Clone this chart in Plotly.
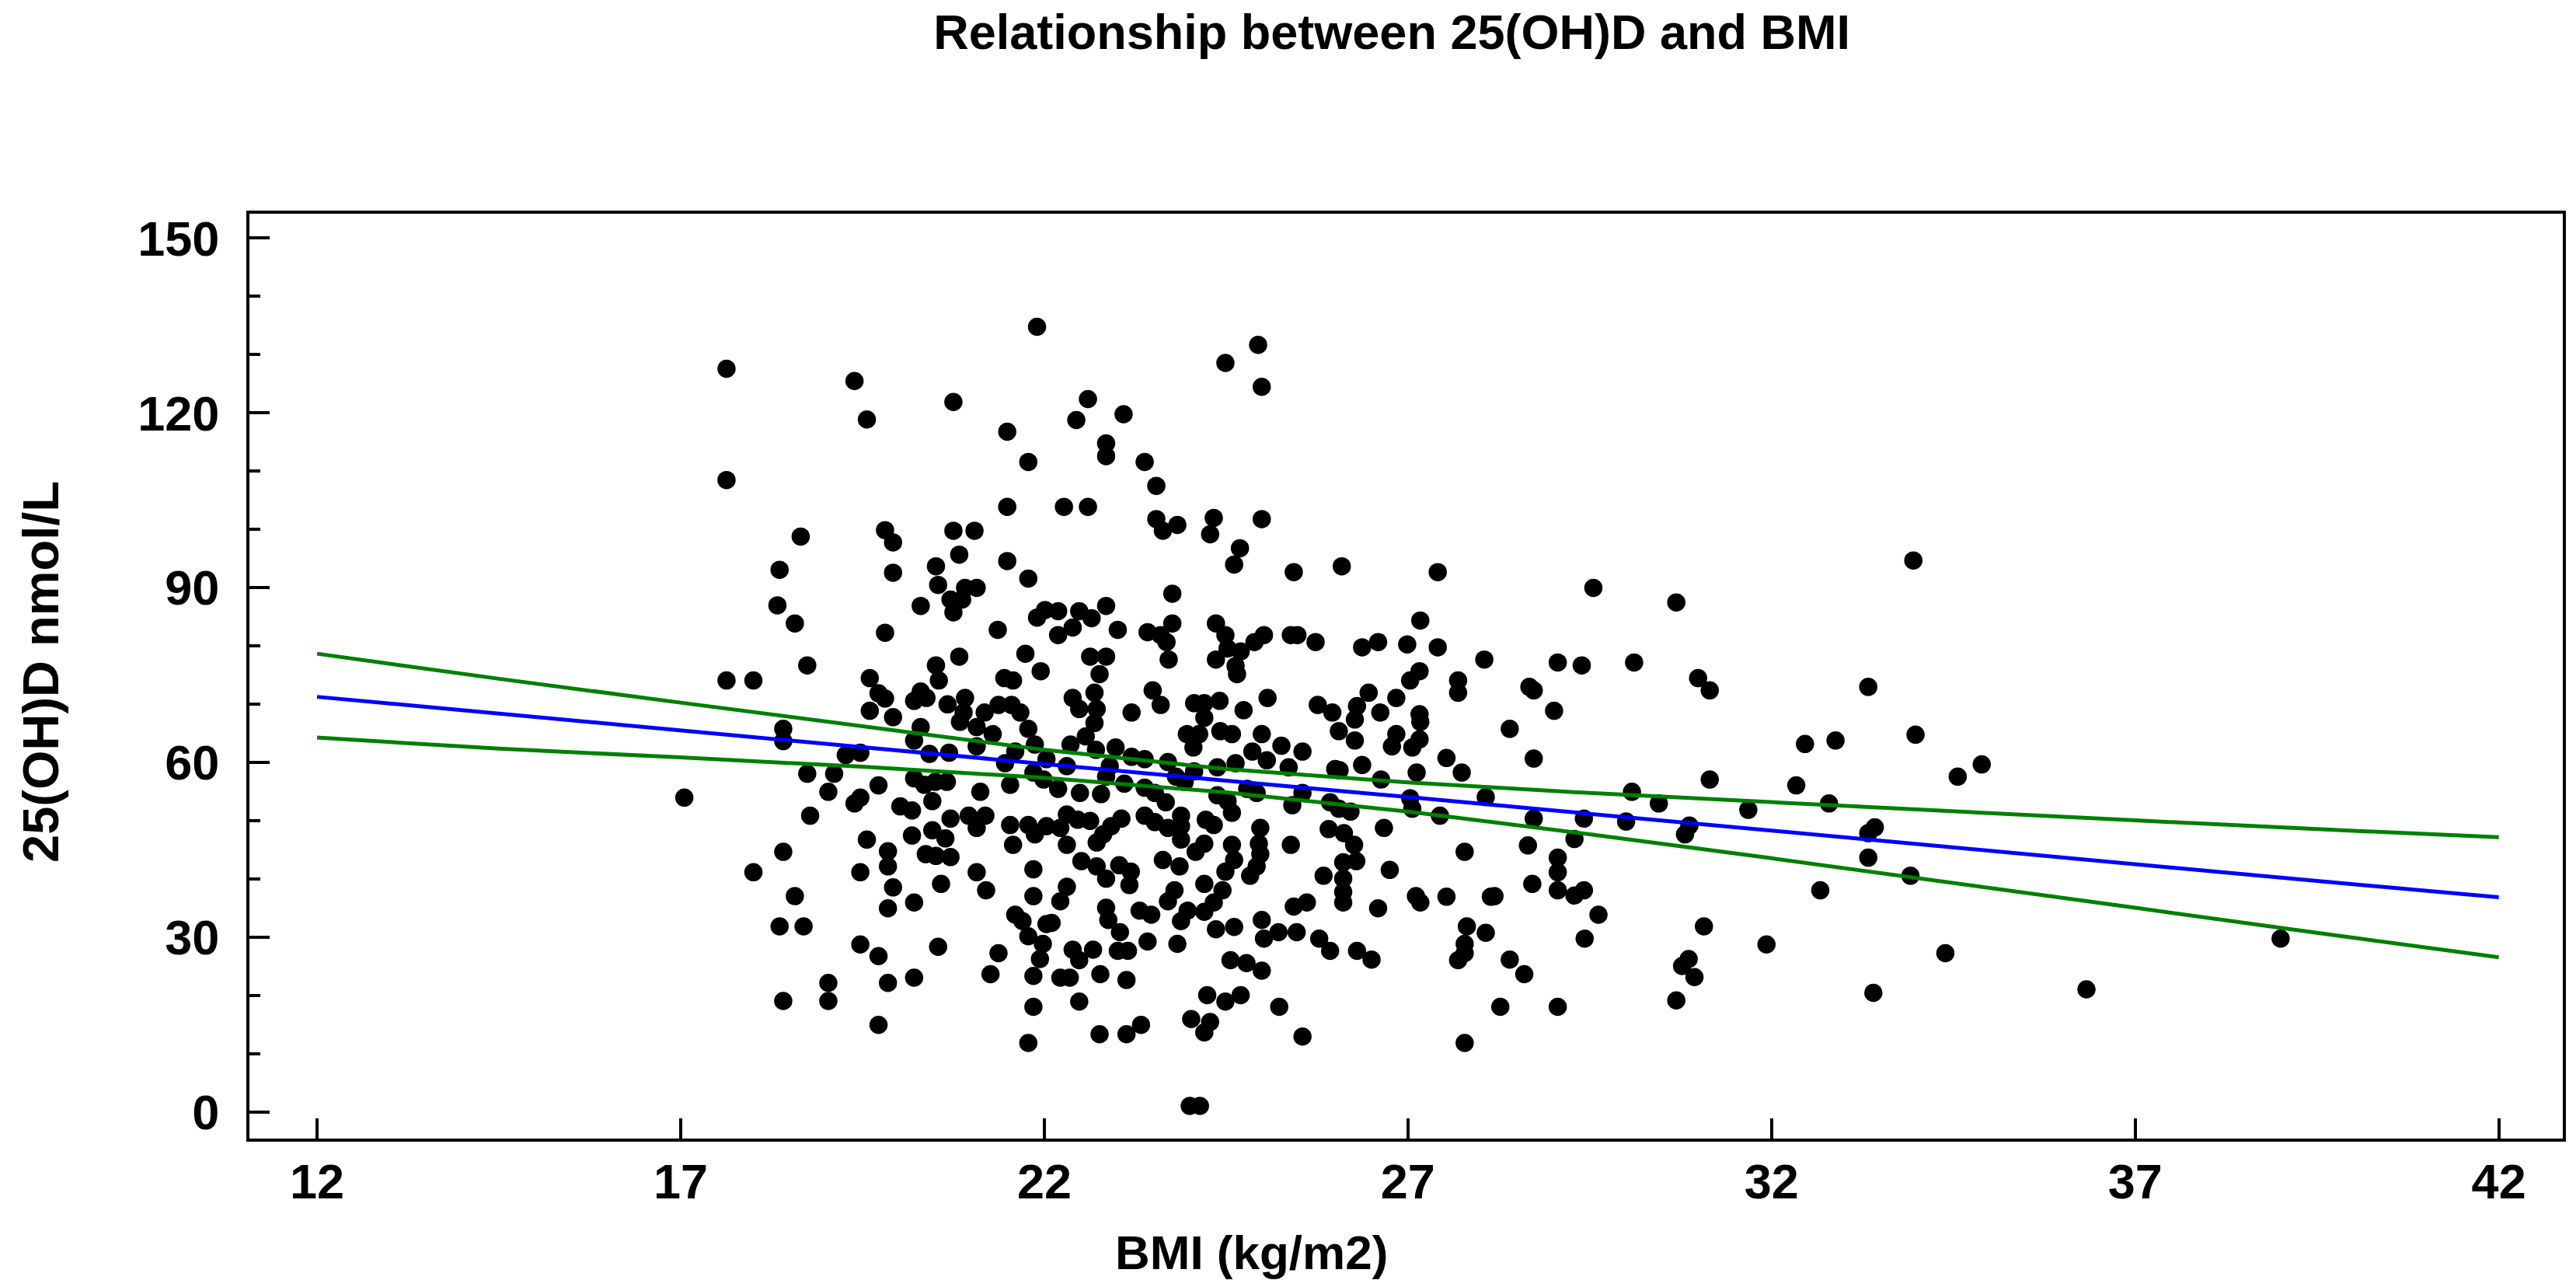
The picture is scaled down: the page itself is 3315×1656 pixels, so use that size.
import plotly.graph_objects as go

# ---- scatter data: BMI (kg/m2) and 25(OH)D (nmol/L) ----
bmi = [
    17.63, 19.39, 19.56, 17.63, 19.81, 19.92, 18.65, 18.36, 19.92, 18.33, 18.57, 19.81, 18.74, 17.63, 18.0, 19.6, 19.72, 19.81, 19.6, 19.92,
    18.41, 18.41, 19.27, 19.47, 18.74, 19.11, 19.03, 17.05, 19.72, 19.47, 19.39, 20.02, 18.78, 19.56, 18.41, 19.85, 19.85, 18.0, 19.47, 19.92,
    18.57, 19.85, 18.36, 18.69, 19.47, 19.72, 19.03, 19.85, 18.41, 19.03, 19.72,
    21.90, 20.75, 21.49, 21.78, 21.49, 20.75, 21.04, 20.83, 21.49, 20.51, 21.78, 20.54, 20.91, 21.07, 20.71, 20.87, 20.75, 20.30, 21.90, 22.01,
    21.36, 20.83, 21.74, 21.95, 20.51, 20.55, 21.45, 21.57, 20.30, 20.21, 20.38, 20.67, 20.91, 21.37, 21.55, 21.67,
    20.89, 20.84, 21.07, 21.18, 21.29, 20.30, 20.21, 20.42, 20.69, 21.07, 21.60, 21.87, 21.78, 21.46, 21.85, 21.99, 20.21, 20.35, 20.50, 20.66,
    21.12, 21.53, 20.46, 20.18, 20.71, 20.96, 21.19, 21.07, 21.53, 21.78, 22.03, 21.87, 20.18, 20.46, 20.64, 21.57, 20.37, 20.51, 20.71, 21.85,
    21.07, 20.58, 21.20, 21.85, 20.21, 21.60, 21.70, 21.78, 22.03, 21.98, 21.94, 20.54, 21.37, 21.85, 20.21, 21.26, 21.85, 21.78,
    22.60, 22.44, 23.09, 22.85, 22.85, 23.38, 23.54, 22.27, 22.60, 23.54, 23.83, 23.63, 23.76, 22.85, 22.19, 22.48, 22.65, 22.39, 22.19, 23.01,
    23.42, 23.60, 23.76, 23.68, 22.63, 22.85, 23.71, 22.76, 23.49, 22.39, 22.69, 22.72, 23.60, 24.06, 23.20, 22.48,
    22.69, 22.57, 22.36, 22.71, 22.98, 23.96, 24.05, 23.20, 23.38, 23.70, 22.03, 22.31, 22.90, 22.85, 23.10, 23.38, 23.52, 22.19, 22.49, 22.78,
    23.81, 23.93, 23.67, 22.31, 22.46, 22.63, 22.22, 23.06, 22.92, 22.81, 22.72, 23.38, 23.52, 23.70, 23.88, 23.88, 23.88, 24.08, 22.31, 22.51,
    22.72, 22.85, 23.03, 23.19, 23.17, 23.63, 23.86, 22.31, 22.22, 22.10, 22.85, 22.88, 23.04, 23.31, 23.47, 23.70, 23.79, 23.88, 23.97, 23.42,
    23.83, 22.39, 22.48, 22.67, 23.01, 23.15, 22.22, 22.35, 22.77, 23.13, 22.48, 22.76, 23.13, 23.33, 24.02, 24.00,
    24.94, 24.49, 24.99, 24.33, 24.99, 24.28, 24.69, 24.61, 25.43, 26.09, 24.36, 24.49, 24.70, 24.36, 24.63, 24.65, 24.89, 25.02, 25.39, 25.48,
    25.73, 24.52, 24.20, 24.41, 24.74, 25.07, 25.76, 25.96,
    24.20, 24.13, 24.42, 24.58, 24.99, 25.26, 24.86, 25.55, 26.05, 25.06, 24.63, 24.38, 25.36, 26.00, 24.06, 24.79, 24.92, 24.38, 25.41, 25.55,
    25.93, 24.52, 24.58, 26.05, 24.22, 24.33, 24.97, 25.91, 24.20, 24.58, 24.95, 25.39, 24.97, 24.61, 24.92, 24.49, 24.83, 25.84, 26.11, 26.11,
    26.11, 26.11, 24.20, 24.45, 24.33, 24.20, 25.43, 25.61, 24.99, 24.36, 24.61, 25.02, 25.22, 25.47, 25.78, 25.93, 24.56, 24.78, 24.99, 24.24,
    24.49, 24.70, 25.23, 24.28, 24.20, 25.55, 24.14,
    27.41, 27.17, 26.37, 26.59, 26.99, 27.41, 28.05, 27.16, 27.03, 27.69, 27.69, 26.46, 26.84, 26.30, 26.62, 27.16,
    26.27, 27.17, 26.84, 27.16, 26.78, 27.06, 26.27, 27.53, 26.37, 26.06, 27.12, 27.74, 26.63, 28.07, 27.03, 27.06, 27.44, 26.21, 26.67, 26.12,
    26.26, 27.78, 26.29, 26.75, 27.11, 27.17, 27.53, 28.14, 26.59, 27.81, 28.07, 27.78, 27.78, 27.69, 26.30, 26.50, 27.78,
    29.55, 29.06, 29.39, 30.11, 28.67, 28.73, 29.01, 28.40, 28.73, 30.08, 28.73, 29.42, 30.00, 29.29, 28.65, 29.06, 29.06, 28.71, 29.06, 29.29,
    29.42, 28.19, 29.62, 29.43, 28.40, 28.60, 28.27, 29.06,
    33.95, 30.69, 30.99, 31.15, 33.33, 33.98, 32.46, 32.88, 34.89, 34.56, 31.15, 32.34, 30.45, 32.79, 31.68, 30.87, 30.81, 33.42, 33.33, 33.33,
    33.91, 32.67, 31.07, 31.93, 34.39, 30.86, 30.77, 30.94, 39.0, 36.33, 33.40, 30.69,
]
vitd = [
    127.6, 125.5, 118.9, 108.5, 99.9, 97.8, 98.8, 93.1, 92.6, 87.0, 83.9, 82.3, 76.7, 74.1, 74.1, 74.5, 71.9, 71.0, 68.9, 67.8,
    65.8, 63.7, 61.3, 61.7, 58.1, 58.1, 55.0, 54.0, 56.1, 54.0, 53.0, 52.5, 50.9, 46.8, 44.7, 44.8, 42.2, 41.2, 41.2, 38.6,
    37.1, 35.0, 31.9, 31.9, 28.8, 26.8, 22.2, 22.2, 19.1, 19.1, 15.0,
    134.8, 121.9, 116.8, 111.6, 103.9, 99.8, 99.8, 95.7, 94.6, 93.7, 91.6, 90.5, 90.0, 90.0, 88.0, 88.0, 85.8, 86.9, 84.9, 86.2,
    82.8, 78.2, 78.7, 75.7, 76.7, 74.1, 74.5, 74.1, 72.2, 70.6, 71.1, 70.0, 71.1, 69.9, 69.9, 68.6,
    68.6, 67.0, 66.1, 68.6, 64.9, 66.1, 63.8, 61.5, 61.7, 62.8, 61.9, 63.1, 65.8, 59.9, 58.3, 57.1, 57.3, 56.2, 56.7, 56.7,
    55.0, 56.2, 53.4, 51.8, 50.4, 50.9, 50.9, 48.8, 49.3, 49.3, 49.1, 47.7, 47.5, 48.4, 47.0, 45.9, 44.3, 44.0, 43.8, 41.7,
    41.2, 39.2, 38.1, 37.1, 36.0, 33.9, 32.8, 30.2, 32.3, 28.9, 26.3, 28.4, 27.3, 23.4, 23.1, 23.7, 18.1, 11.9,
    122.4, 118.8, 119.8, 114.8, 112.6, 111.6, 107.5, 103.9, 103.9, 101.8, 100.8, 99.8, 89.0, 86.9, 86.0, 86.0, 84.8, 83.2, 81.9, 82.8,
    82.4, 81.9, 83.9, 80.7, 78.2, 78.2, 77.7, 75.2, 72.4, 71.1, 72.0, 69.2, 69.9, 70.2, 68.6, 69.2,
    66.8, 64.5, 63.1, 62.2, 62.6, 64.9, 62.6, 61.0, 60.6, 60.1, 60.6, 59.4, 59.4, 57.6, 56.4, 55.7, 54.8, 55.5, 54.8, 54.6,
    57.6, 56.7, 53.2, 51.1, 50.2, 50.0, 48.8, 50.4, 49.1, 47.7, 46.3, 50.9, 49.8, 48.8, 50.9, 49.1, 46.8, 44.7, 45.9, 43.1,
    42.2, 40.1, 42.4, 41.3, 39.0, 43.3, 42.2, 38.7, 36.2, 32.5, 35.1, 33.0, 30.9, 34.6, 33.9, 36.2, 38.1, 32.8, 34.6, 29.3,
    28.9, 27.9, 26.1, 27.9, 27.7, 27.7, 23.1, 23.1, 23.7, 22.7, 19.0, 13.4, 13.4, 15.0, 16.0, 1.1,
    131.7, 128.6, 124.5, 102.0, 101.8, 99.2, 96.8, 94.0, 92.7, 93.7, 83.9, 81.9, 79.1, 77.7, 76.6, 75.2, 80.7, 81.9, 81.9, 81.9,
    80.7, 79.6, 70.2, 70.6, 69.0, 71.1, 69.9, 68.6,
    67.7, 64.9, 65.4, 64.9, 64.9, 62.9, 61.9, 61.9, 65.4, 60.4, 59.9, 59.2, 59.2, 58.9, 58.5, 55.5, 54.8, 54.4, 52.7, 54.8,
    53.2, 53.4, 51.4, 52.1, 50.2, 49.3, 48.8, 48.6, 46.1, 45.9, 46.1, 45.9, 44.3, 43.3, 42.2, 41.3, 40.6, 40.6, 42.9, 40.1,
    37.8, 36.0, 39.2, 38.1, 36.0, 34.4, 35.3, 36.0, 33.0, 31.4, 31.8, 29.8, 30.9, 30.9, 29.8, 27.7, 26.1, 25.6, 24.3, 20.1,
    19.0, 20.1, 18.1, 15.5, 13.7, 13.0, 1.1,
    92.7, 84.4, 79.8, 80.7, 80.3, 79.8, 77.7, 75.7, 74.1, 74.1, 72.0, 72.0, 71.1, 69.7, 68.6, 68.3,
    67.4, 67.0, 64.9, 64.0, 62.8, 62.6, 63.8, 60.8, 59.6, 58.7, 58.3, 58.3, 57.1, 54.1, 53.9, 52.1, 50.9, 51.6, 48.8, 47.9,
    45.9, 44.7, 43.1, 41.6, 37.1, 36.0, 37.0, 37.0, 35.0, 31.9, 30.8, 28.9, 27.3, 26.1, 27.7, 26.2, 11.9,
    90.0, 77.2, 76.7, 77.2, 73.0, 72.4, 68.9, 65.8, 60.7, 55.0, 50.4, 50.4, 49.9, 46.9, 45.8, 43.7, 41.2, 39.2, 38.1, 37.2,
    38.1, 37.1, 33.9, 29.8, 26.2, 23.7, 18.1, 18.1,
    94.7, 87.5, 74.5, 72.4, 73.0, 64.8, 63.2, 63.8, 59.7, 57.6, 57.1, 56.1, 53.0, 53.0, 51.9, 49.2, 47.7, 48.9, 47.9, 43.7,
    40.6, 38.1, 31.9, 28.8, 27.3, 26.3, 25.1, 23.2, 29.8, 21.1, 20.5, 19.2,
]

# ---- regression line and 95% confidence band ----
fit_x = [12, 14.5, 17, 19.5, 22, 24.5, 27, 29.5, 32, 34.5, 37, 39.5, 42]
fit_mid = [71.3, 68.4, 65.6, 62.7, 59.8, 56.9, 54.1, 51.2, 48.4, 45.5, 42.6, 39.7, 36.9]
fit_hi = [78.7, 74.4, 70.3, 66.2, 62.2, 58.9, 56.6, 54.8, 53.2, 51.6, 50.1, 48.6, 47.2]
fit_lo = [64.3, 62.4, 60.9, 59.3, 57.4, 54.9, 51.6, 47.7, 43.6, 39.4, 35.1, 30.8, 26.6]

x_ticks = [12, 17, 22, 27, 32, 37, 42]
y_ticks = [0, 30, 60, 90, 120, 150]

FONT = "Liberation Sans, Arial, sans-serif"

fig = go.Figure()
fig.add_trace(go.Scatter(x=bmi, y=vitd, mode="markers",
                         marker=dict(color="black", size=23.5, line=dict(width=0)),
                         showlegend=False, hoverinfo="skip"))
fig.add_trace(go.Scatter(x=fit_x, y=fit_hi, mode="lines", line=dict(color="#008000", width=5), showlegend=False))
fig.add_trace(go.Scatter(x=fit_x, y=fit_lo, mode="lines", line=dict(color="#008000", width=5), showlegend=False))
fig.add_trace(go.Scatter(x=fit_x, y=fit_mid, mode="lines", line=dict(color="#0000ff", width=5), showlegend=False))

axis_common = dict(showgrid=False, zeroline=False, showline=True, mirror=True,
                   linecolor="black", linewidth=4, ticks="inside", ticklen=26,
                   tickwidth=4, tickcolor="black",
                   tickfont=dict(family=FONT, size=63, color="black", weight="bold"))

fig.update_layout(
    width=3315, height=1656,
    margin=dict(l=321, r=17, t=275, b=191, autoexpand=False),
    paper_bgcolor="white", plot_bgcolor="white",
    xaxis=dict(range=[11.07, 42.88], tickvals=x_ticks, ticklabelstandoff=-3, **axis_common),
    yaxis=dict(range=[-4.5, 154.2], tickvals=y_ticks, ticklabelstandoff=22,
               minor=dict(dtick=10, tick0=0, ticks="inside", ticklen=14, tickwidth=4, tickcolor="black"),
               **axis_common),
    title=dict(text="Relationship between 25(OH)D and BMI", x=0.5403, xref="container",
               xanchor="center", y=0.975, yref="container", yanchor="middle",
               font=dict(family=FONT, size=63, color="black", weight="bold")),
    annotations=[
        dict(text="BMI (kg/m2)", xref="paper", yref="paper", x=(1610 - 321) / (3298 - 321),
             y=-(1611 - 1465) / (1465 - 275), xanchor="center", yanchor="middle",
             showarrow=False, font=dict(family=FONT, size=62, color="black", weight="bold")),
        dict(text="25(OH)D nmol/L", xref="paper", yref="paper", x=-(321 - 52) / (3298 - 321),
             y=(1465 - 865) / (1465 - 275), xanchor="center", yanchor="middle", textangle=-90,
             showarrow=False, font=dict(family=FONT, size=65, color="black", weight="bold")),
    ],
)

fig.write_html("out.html")
